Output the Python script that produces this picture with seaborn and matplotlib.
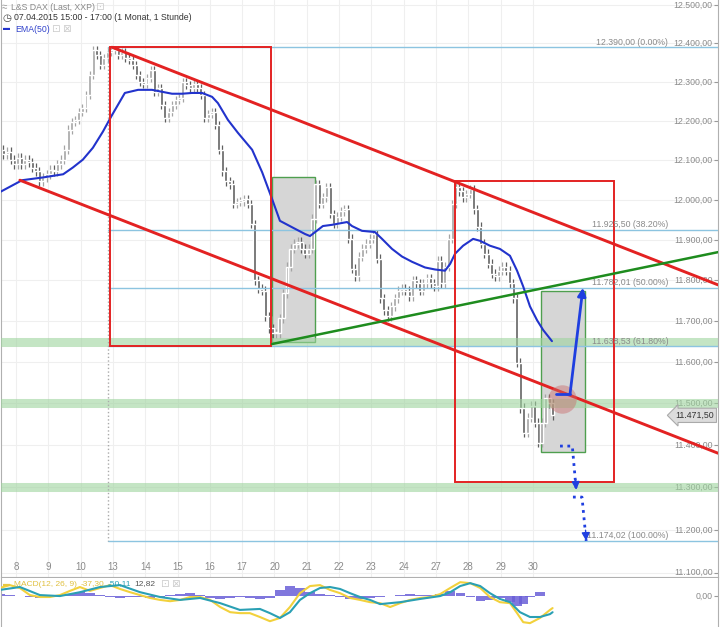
import numpy as np
import matplotlib
matplotlib.use("Agg")
import matplotlib.pyplot as plt
from matplotlib.patches import Rectangle
from matplotlib.ticker import NullLocator
import seaborn as sns

# x values are trading days, 0 = the 8th; prices in index points
day_labels = ["8", "9", "10", "13", "14", "15", "16", "17", "20", "21",
              "22", "23", "24", "27", "28", "29", "30"]
price_ticks = [11100, 11200, 11300, 11400, 11500, 11600, 11700, 11800,
               11900, 12000, 12100, 12200, 12300, 12400, 12500]

# hourly closes, 9 bars a day, first bar half way through the 7th
first_open = 12120.0
close = [
    12127, 12115, 12122, 12102, 12090,
    12107, 12090, 12102, 12095, 12082, 12072, 12047, 12057, 12065,
    12077, 12072, 12090, 12102, 12127, 12178, 12198, 12203, 12223,
    12233, 12267, 12318, 12383, 12370, 12344, 12362, 12378, 12383,
    12383, 12370, 12378, 12362, 12357, 12344, 12318, 12300, 12295,
    12310, 12331, 12275, 12285, 12241, 12208, 12223, 12241, 12254,
    12259, 12300, 12293, 12285, 12295, 12285, 12267, 12208, 12218,
    12223, 12190, 12127, 12072, 12047, 12040, 11990, 11995, 11997,
    12002, 11990, 11940, 11800, 11780, 11775, 11712, 11683, 11670,
    11670, 11707, 11768, 11834, 11878, 11891, 11896, 11878, 11866,
    11878, 11953, 12040, 11990, 12007, 12032, 11965, 11940, 11958,
    11972, 11977, 11903, 11829, 11810, 11859, 11878, 11891, 11903,
    11915, 11854, 11756, 11727, 11712, 11736, 11756, 11775, 11780,
    11775, 11761, 11800, 11793, 11775, 11793, 11805, 11793, 11785,
    11849, 11793, 11834, 11903, 11990, 12032, 12022, 12007, 12015,
    12027, 11977, 11933, 11891, 11866, 11841, 11817, 11810, 11824,
    11834, 11824, 11793, 11756, 11598, 11489, 11430, 11466, 11494,
    11454, 11406, 11454, 11513, 11501, 11471.5,
]
last_price = 11471.50

ema_day = [-0.50, 0.19, 0.84, 1.46, 1.76, 2.07, 2.38, 2.69, 2.97, 3.37, 3.78,
           4.21, 4.52, 4.83, 5.14, 5.45, 5.76, 6.07, 6.25, 6.56, 6.87, 7.31,
           7.62, 7.93, 8.17, 8.64, 8.95, 9.10, 9.26, 9.50, 9.78, 10.25, 10.40,
           10.71, 11.11, 11.33, 11.64, 11.95, 12.26, 12.66, 12.97, 13.28,
           13.44, 13.59, 13.84, 14.15, 14.37, 14.67, 14.98, 15.29, 15.51,
           15.70, 15.91, 16.13, 16.32, 16.59]
ema_price = [12020, 12050, 12057, 12065, 12082, 12102, 12132, 12173, 12215,
             12272, 12280, 12280, 12275, 12270, 12270, 12272, 12272, 12262,
             12246, 12203, 12170, 12127, 12070, 12002, 11948, 11928, 11915,
             11910, 11920, 11935, 11938, 11945, 11935, 11923, 11920, 11903,
             11878, 11859, 11846, 11832, 11827, 11824, 11841, 11866, 11886,
             11903, 11898, 11886, 11878, 11861, 11824, 11785, 11736, 11702,
             11678, 11651]

macd_day = [-0.50, -0.19, 0.12, 0.43, 0.74, 1.05, 1.36, 1.67, 1.98, 2.29,
            2.60, 2.91, 3.22, 3.53, 3.84, 4.15, 4.46, 4.77, 5.08, 5.39, 5.70,
            6.01, 6.32, 6.63, 6.93, 7.24, 7.55, 7.86, 8.17, 8.48, 8.79, 9.10,
            9.41, 9.72, 10.03, 10.34, 10.65, 10.96, 11.27, 11.58, 11.89,
            12.20, 12.51, 12.82, 13.13, 13.44, 13.75, 14.06, 14.37, 14.67,
            14.98, 15.29, 15.51, 15.70, 15.91, 16.22, 16.53, 16.61]
macd_val = [25, 34, 25, 3, -3, -3, 3, 16, 28, 16, 25, 34, 22, 12, 3, -6, -12,
            -16, -12, -3, -3, -12, -34, -50, -53, -53, -65, -78, -68, -34, 9,
            31, 34, 19, 9, -6, -12, -19, -22, -34, -22, -12, -6, -3, 6, 25, 43,
            40, 25, -3, -19, -22, -53, -81, -84, -68, -43, -37.30]

signal_day = [-0.50, 0.12, 0.74, 1.36, 1.98, 2.60, 3.22, 3.84, 4.46, 5.08,
              5.70, 6.32, 6.93, 7.55, 7.86, 8.17, 8.48, 8.79, 9.10, 9.41, 9.72,
              10.03, 10.34, 10.65, 10.96, 11.27, 11.58, 11.89, 12.51, 13.13,
              13.44, 13.75, 14.06, 14.37, 14.67, 14.98, 15.29, 15.60, 15.91,
              16.22, 16.53, 16.61]
signal_val = [19, 28, 3, 0, 12, 28, 34, 12, -3, -12, -6, -22, -43, -40, -53,
              -68, -50, -12, 9, 25, 28, 22, 9, -3, -12, -25, -22, -19, -9, 0,
              12, 31, 40, 31, 9, -9, -19, -50, -65, -65, -56, -50.11]

hist_day = macd_day[:-2]
hist_val = [6, 3, 0, -3, -6, 0, 3, 6, 12, 9, 3, -3, -6, -3, -3, -6, -3, 3, 6,
            9, 3, -6, -9, -6, -3, -6, -9, -6, 19, 31, 25, 12, 6, 3, -3, -9, -9,
            -6, -3, 0, 3, 6, 3, 3, 6, 16, 9, -3, -16, -12, -6, -19, -31, -25,
            -3, 12.82]

fib_levels = [12390.00, 11925.50, 11782.01, 11638.53, 11174.02]
fib_pct = ["0.00%", "38.20%", "50.00%", "61.80%", "100.00%"]
fib_start = 2.85
support_levels = [11650, 11500, 11300]

# hand drawn analysis objects: (day from, day to, price low, price high)
red_boxes = [(2.91, 7.89, 11640, 12390), (13.59, 18.51, 11313, 12047)]
gray_boxes = [(7.93, 9.26, 11650, 12057), (16.25, 17.62, 11385, 11775)]
upper_channel = ([2.97, 21.73], [12390, 11789])
lower_channel = ([0.12, 21.73], [12050, 11381])
green_trend = ([7.93, 21.73], [11644, 11870])
target_up = ([16.72, 17.15], [11523, 11523], (17.55, 11782))
circle_at = (16.9, 11510)
target_down1 = ([16.84, 17.22], [11398, 11398], (17.34, 11294))
target_down2 = ([17.24, 17.52], [11277, 11277], (17.65, 11174))


def de(v):
    return f"{v:,.2f}".replace(",", "X").replace(".", ",").replace("X", ".")


sns.set_style("white")
plt.rcParams["font.family"] = ["Liberation Sans", "DejaVu Sans"]

GRAY = "#8a8a8a"
RED = "#e32222"
BLUE = "#2233cc"
FIB = "#8cc4e0"
FS = 6.3

fig = plt.figure(figsize=(7.2, 6.27), dpi=100)
ax = fig.add_axes([1 / 720, 50 / 627, 717 / 720, 577 / 627])
mx = fig.add_axes([1 / 720, 0, 717 / 720, 49 / 627], sharex=ax)

xlim = (-0.464, 21.73)
days = list(range(len(day_labels)))

# ---- price panel ----
ax.set_yscale("log")
ax.set_ylim(11090, 12513)
ax.set_xlim(*xlim)
ax.set_yticks(price_ticks)
ax.yaxis.set_minor_locator(NullLocator())
ax.set_xticks(days)
ax.yaxis.tick_right()
ax.tick_params(axis="both", direction="in", length=3, color="#999",
               labelleft=False, labelright=False, labelbottom=False)
ax.grid(True, color="#efefef", lw=0.8, zorder=0)
ax.spines["top"].set_visible(False)
for s in ["left", "right", "bottom"]:
    ax.spines[s].set_color("#b0b0b0")

for p in price_ticks:
    ax.annotate(de(p), xy=(1, p), xycoords=("axes fraction", "data"),
                xytext=(-4, 0), textcoords="offset points", ha="right",
                va="center", fontsize=FS, color=GRAY)
for d, lbl in zip(days, day_labels):
    ax.annotate(lbl, xy=(d, 0), xycoords=("data", "axes fraction"),
                xytext=(0, 3.5), textcoords="offset points", ha="center",
                va="bottom", fontsize=7, color=GRAY)

for (x0, x1, p0, p1) in gray_boxes:
    ax.add_patch(Rectangle((x0, p0), x1 - x0, p1 - p0, fc="#d6d6d6",
                           ec="#4f9f4f", lw=1, zorder=1))

# candles
c = np.array(close, dtype=float)
o = np.r_[first_open, c[:-1]]
bx = -0.5 + np.arange(len(c)) / 9
lo = np.minimum(o, c)
hi = np.maximum(o, c)
cols = np.where(c >= o, "#a4a4a4", "#5f5f5f")
ax.vlines(bx, lo - 11, hi + 11, colors=cols, lw=0.9, zorder=2)
ax.bar(bx, np.maximum(hi - lo, 4), bottom=lo, width=0.092, color=cols,
       zorder=2)

for lvl in support_levels:
    ax.axhline(lvl, color="#9ed49e", lw=6.5, alpha=0.6, zorder=3)

for lvl, pct in zip(fib_levels, fib_pct):
    ax.plot([fib_start, xlim[1]], [lvl, lvl], color=FIB, lw=1, zorder=3)
    ax.annotate(f"{de(lvl)} ({pct})", xy=(20.19, lvl), xytext=(0, 0.5),
                textcoords="offset points", ha="right", va="bottom",
                fontsize=FS, color=GRAY, zorder=6)
ax.plot([fib_start, fib_start], [fib_levels[0], fib_levels[-1]],
        color="#aaaaaa", lw=1, ls=":", zorder=3)

sns.lineplot(x=ema_day, y=ema_price, ax=ax, color=BLUE, lw=1.5, zorder=4,
             sort=False)

for (x0, x1, p0, p1) in red_boxes:
    ax.add_patch(Rectangle((x0, p0), x1 - x0, p1 - p0, fill=False, ec=RED,
                           lw=1.4, zorder=5))
ax.plot(*upper_channel, color=RED, lw=2.1, zorder=5)
ax.plot(*lower_channel, color=RED, lw=2.1, zorder=5)
ax.plot(*green_trend, color="#1e8c1e", lw=1.8, zorder=5)

ax.scatter([circle_at[0]], [circle_at[1]], s=420, color="#c96b6b", alpha=0.45,
           lw=0, zorder=6)
xs, ys, tip = target_up
ax.plot(xs, ys, color="#1f3fe0", lw=2, zorder=7)
ax.annotate("", xy=tip, xytext=(xs[-1], ys[-1]),
            arrowprops=dict(arrowstyle="-|>", color="#1f3fe0", lw=2,
                            mutation_scale=12, shrinkA=0, shrinkB=0),
            zorder=7)
for xs, ys, tip in (target_down1, target_down2):
    ax.plot(xs + [tip[0]], ys + [tip[1]], color="#1f3fe0", lw=2, ls=":",
            zorder=7)
    ax.annotate("", xy=tip, xytext=(tip[0] - 0.02, tip[1] + 25),
                arrowprops=dict(arrowstyle="-|>", color="#1f3fe0", lw=1,
                                mutation_scale=12, shrinkA=0, shrinkB=0),
                zorder=7)

ax.annotate(de(last_price), xy=(1, last_price),
            xycoords=("axes fraction", "data"), xytext=(-3, 0),
            textcoords="offset points", ha="right", va="center", fontsize=FS,
            color="#333", zorder=8,
            bbox=dict(boxstyle="larrow,pad=0.3", fc="#dcdcdc", ec="#aaa",
                      lw=0.8))

# ---- MACD panel ----
mx.set_ylim(-96, 56)
mx.set_xlim(*xlim)
mx.bar(hist_day, hist_val, width=0.29, color="#6a5fd8", alpha=0.85,
       lw=0, zorder=2)
sns.lineplot(x=macd_day, y=macd_val, ax=mx, color="#f2d13c", lw=1.5,
             sort=False, zorder=3)
sns.lineplot(x=signal_day, y=signal_val, ax=mx, color="#2aa0b4", lw=1.5,
             sort=False, zorder=3)
mx.set_yticks([0])
mx.yaxis.tick_right()
mx.tick_params(axis="both", direction="in", length=3, color="#999",
               labelleft=False, labelright=False, labelbottom=False)
mx.annotate("0,00", xy=(1, 0), xycoords=("axes fraction", "data"),
            xytext=(-4, 0), textcoords="offset points", ha="right",
            va="center", fontsize=FS, color=GRAY)
for s in ["top", "bottom"]:
    mx.spines[s].set_visible(False)
for s in ["left", "right"]:
    mx.spines[s].set_color("#b0b0b0")


# ---- header texts ----
def ftext(x, y, s, size=FS, **kw):
    fig.text(x / 720, 1 - y / 627, s, va="center", fontsize=size, **kw)


ftext(2, 7, "≈", size=7, color="#999")
ftext(11, 7, "L&S DAX (Last, XXP)", color="#888")
ftext(95, 7, "⊡", size=7.5, color="#ccc")
ftext(2, 18, "◷", size=7.5, color="#444")
ftext(14, 18, "07.04.2015 15:00 - 17:00 (1 Monat, 1 Stunde)", color="#333")
ftext(3, 29, "▬", size=5, color=BLUE)
ftext(15, 29, "EMA(50)", color="#3344cc")
ftext(51, 29, "⊡", size=7.5, color="#ccc")
ftext(62, 29, "⊠", size=7.5, color="#ccc")

ftext(3, 584, "▬", size=5, color="#e8c840")
ftext(14, 584, "MACD(12, 26, 9)", size=6, color="#e0c040")
ftext(81, 584, "-37,30", size=6, color="#e0c040")
ftext(108, 584, "-50,11", size=6, color="#2aa0b4")
ftext(134, 584, "12,82", size=6, color="#555")
ftext(160, 584, "⊡", size=7.5, color="#ccc")
ftext(171, 584, "⊠", size=7.5, color="#ccc")

fig.savefig("out.png", dpi=100)
